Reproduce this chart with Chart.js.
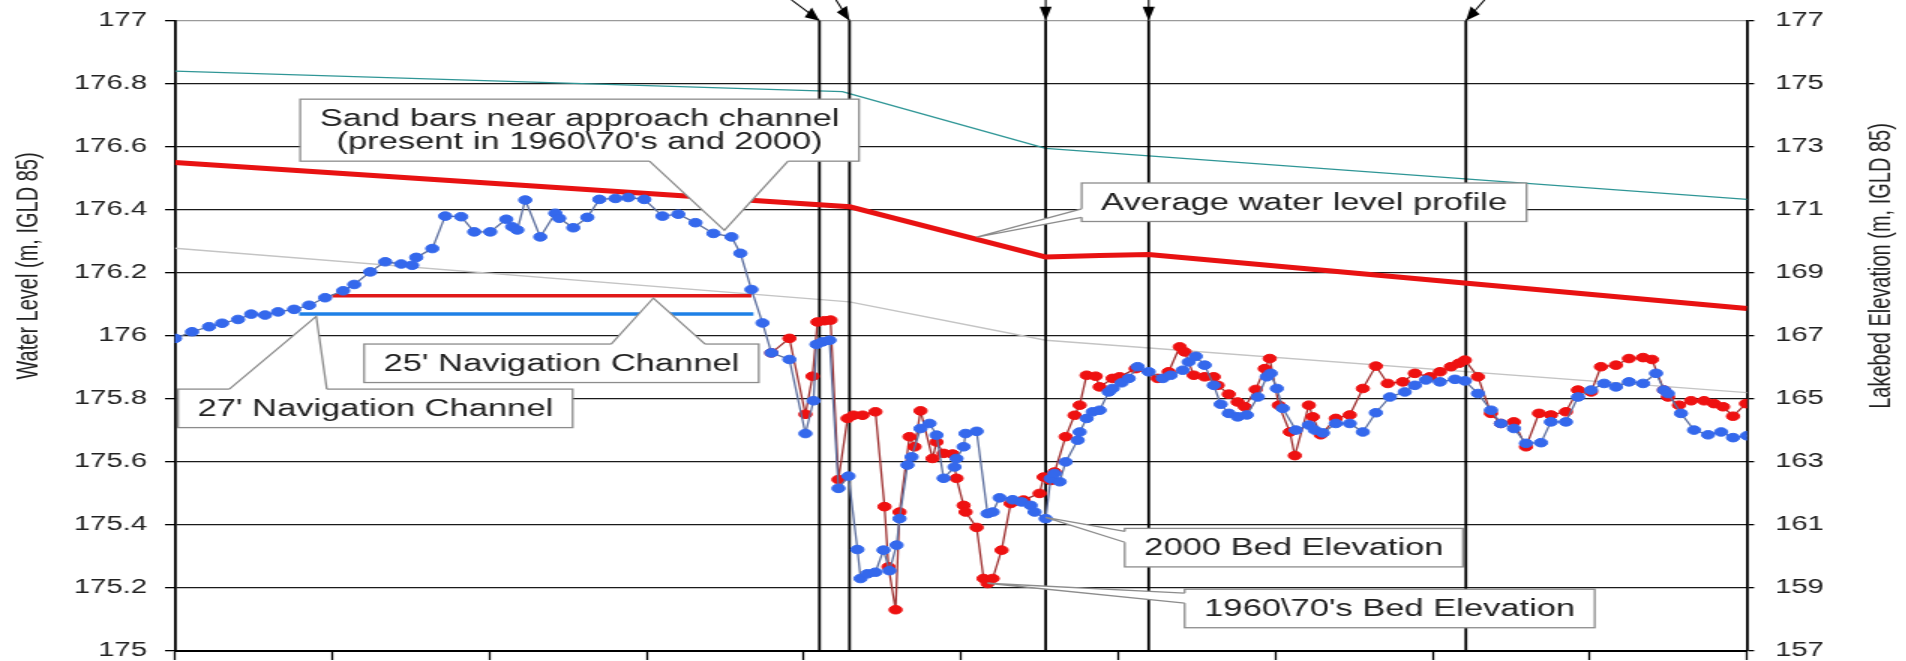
<!DOCTYPE html>
<html>
<head>
<meta charset="utf-8">
<script src="https://cdn.jsdelivr.net/npm/chart.js"></script>
<style>
  html, body { margin: 0; padding: 0; background: #fff; overflow: hidden; }
  /* o grafico original foi esticado na horizontal, por isso o scaleX */
  #estica { width: 1271px; height: 661px; transform: scaleX(1.5); transform-origin: 0 0; }
</style>
</head>
<body>
<div id="estica"><canvas id="graficoPerfil"></canvas></div>
<script>
const ESTICA_X = 1.5;

// Leito 2000 (azul) - distancia (m) e cota do leito (m, IGLD 85)
const distancia2000 = [0, 103, 206, 285, 382, 461, 545, 624, 721, 812,
  909, 1018, 1085, 1182, 1273, 1370, 1436, 1461, 1558, 1636,
  1733, 1812, 1909, 2006, 2042, 2073, 2121, 2212, 2303, 2327,
  2412, 2497, 2570, 2667, 2745, 2842, 2952, 3048, 3152, 3261,
  3370, 3424, 3491, 3558, 3612, 3721, 3818, 3867, 3885, 3921,
  3964, 4018, 4079, 4133, 4152, 4194, 4242, 4291, 4327, 4370,
  4388, 4436, 4461, 4515, 4570, 4612, 4655, 4721, 4733, 4776,
  4788, 4855, 4921, 4952, 4994, 5073, 5127, 5182, 5206, 5273,
  5303, 5327, 5358, 5394, 5467, 5479, 5521, 5558, 5600, 5655,
  5679, 5733, 5776, 5830, 5897, 5982, 6030, 6103, 6139, 6182,
  6236, 6291, 6333, 6382, 6436, 6491, 6558, 6612, 6636, 6673,
  6709, 6788, 6867, 6903, 6952, 7030, 7115, 7194, 7273, 7358,
  7448, 7509, 7576, 7661, 7752, 7812, 7891, 7970, 8030, 8109,
  8182, 8273, 8333, 8424, 8497, 8576, 8655, 8727, 8806, 8891,
  8970, 9018, 9042, 9121, 9200, 9285, 9364, 9436, 9521];
const leito2000 = [166.92, 167.13, 167.29, 167.40, 167.52, 167.69, 167.66, 167.76, 167.84, 167.97,
  168.21, 168.43, 168.63, 169.03, 169.35, 169.28, 169.24, 169.49, 169.77, 170.80,
  170.78, 170.30, 170.30, 170.70, 170.46, 170.36, 171.31, 170.14, 170.89, 170.73,
  170.43, 170.76, 171.33, 171.36, 171.39, 171.33, 170.80, 170.86, 170.59, 170.25,
  170.14, 169.62, 168.47, 167.41, 166.46, 166.25, 163.90, 164.94, 166.73, 166.81,
  166.86, 162.16, 162.55, 160.22, 159.30, 159.45, 159.50, 160.20, 159.55, 160.36,
  161.20, 162.90, 163.16, 164.06, 164.22, 163.85, 162.48, 162.84, 163.11, 163.48,
  163.90, 163.97, 161.36, 161.41, 161.86, 161.80, 161.73, 161.62, 161.41, 161.20,
  162.47, 162.63, 162.37, 163.00, 163.69, 163.95, 164.38, 164.59, 164.64, 165.22,
  165.33, 165.51, 165.65, 166.02, 165.86, 165.65, 165.75, 165.91, 166.17, 166.35,
  166.07, 165.43, 164.83, 164.54, 164.43, 164.49, 165.06, 165.70, 165.81, 165.33,
  164.70, 164.01, 164.17, 164.01, 163.92, 164.22, 164.22, 163.95, 164.56, 165.06,
  165.22, 165.43, 165.60, 165.54, 165.62, 165.57, 165.17, 164.64, 164.22, 164.06,
  163.59, 163.61, 164.27, 164.27, 165.06, 165.28, 165.49, 165.38, 165.54, 165.49,
  165.81, 165.28, 165.17, 164.54, 164.01, 163.86, 163.95, 163.77, 163.83];

// Leito 1960\70 (vermelho)
const distancia1960 = [3612, 3721, 3818, 3861, 3891, 3933, 3970, 4018, 4073, 4109,
  4164, 4242, 4297, 4321, 4364, 4388, 4448, 4479, 4515, 4588,
  4612, 4655, 4709, 4733, 4776, 4788, 4855, 4897, 4921, 4952,
  5006, 5061, 5139, 5236, 5261, 5303, 5327, 5394, 5448, 5479,
  5521, 5576, 5600, 5679, 5721, 5818, 5952, 6018, 6085, 6115,
  6170, 6236, 6291, 6315, 6382, 6436, 6479, 6545, 6600, 6630,
  6685, 6752, 6782, 6867, 6891, 6939, 7030, 7115, 7194, 7273,
  7345, 7436, 7509, 7600, 7661, 7727, 7776, 7812, 7891, 7970,
  8030, 8109, 8182, 8261, 8333, 8424, 8497, 8576, 8636, 8727,
  8806, 8891, 8945, 9018, 9042, 9109, 9182, 9261, 9321, 9376,
  9436, 9515];
const leito1960 = [166.46, 166.92, 164.51, 165.72, 167.44, 167.48, 167.50, 162.44, 164.38, 164.48,
  164.48, 164.59, 161.58, 159.67, 158.31, 161.41, 163.80, 163.48, 164.62, 163.11,
  163.63, 163.27, 163.25, 162.48, 161.62, 161.41, 160.92, 159.30, 159.14, 159.30,
  160.20, 161.68, 161.79, 162.00, 162.52, 162.41, 162.68, 163.80, 164.48, 164.80,
  165.75, 165.72, 165.38, 165.65, 165.70, 165.96, 165.65, 165.86, 166.65, 166.49,
  165.75, 165.70, 165.70, 165.43, 165.15, 164.90, 164.75, 165.30, 165.96, 166.28,
  164.80, 163.95, 163.20, 164.80, 164.43, 163.86, 164.38, 164.49, 165.33, 166.04,
  165.49, 165.54, 165.81, 165.70, 165.86, 166.02, 166.13, 166.23, 165.70, 164.54,
  164.22, 164.27, 163.48, 164.54, 164.49, 164.59, 165.28, 165.22, 166.02, 166.07,
  166.28, 166.31, 166.25, 165.28, 165.06, 164.80, 164.94, 164.94, 164.85, 164.75,
  164.45, 164.85];

// Perfis de nivel d'agua (eixo da esquerda)
const distPerfilMedio = [0, 4085, 5273, 5600, 5897, 9521];
const nivelPerfilMedio = [176.55, 176.41, 176.25, 176.255, 176.258, 176.087];
const distPerfilSuperior = [0, 4042, 5273, 9521];
const nivelPerfilSuperior = [176.84, 176.775, 176.595, 176.433];
const distPerfilInferior = [0, 4085, 5273, 9521];
const nivelPerfilInferior = [176.278, 176.108, 175.986, 175.82];

// Canais de navegacao (eixo da direita)
const distCanal25 = [952, 3491];
const cotaCanal25 = [168.27, 168.27];
const distCanal27 = [752, 3503];
const cotaCanal27 = [167.69, 167.69];

// Linhas verticais de referencia (distancia) e inclinacao das setas no topo
const linhasVerticais = [3903, 4085, 5273, 5897, 7818];
const inclinacaoSetas = [1.35, 0.65, 0, 0, -0.9];

// Eixos
const ticksEsquerda = { min: 175, max: 177, passo: 0.2 };
const ticksDireita = { min: 157, max: 177, passo: 2 };
const ticksDistancia = { min: 0, max: 9521, passo: 1000 };

// Caixas de texto (posicao em distancia / nivel do eixo esquerdo)
const chamadas = [
  { texto: ["Sand bars near approach channel", "(present in 1960\\70's and 2000)"],
    caixa: [758, 176.751], ponta: [3327, 176.335], lado: "bottom", base: [0.625, 0.873] },
  { texto: ["Average water level profile"],
    caixa: [5491, 176.485], ponta: [4855, 176.313], lado: "left", base: [0.67, 0.89] },
  { texto: ["25' Navigation Channel"],
    caixa: [1145, 175.974], ponta: [2897, 176.12], lado: "top", base: [0.626, 0.864] },
  { texto: ["27' Navigation Channel"],
    caixa: [18, 175.831], ponta: [855, 176.062], lado: "top", base: [0.13, 0.377] },
  { texto: ["2000 Bed Elevation"],
    caixa: [5752, 175.389], ponta: [5273, 175.424], lado: "left", base: [0.08, 0.36] },
  { texto: ["1960\\70's Bed Elevation"],
    caixa: [6115, 175.196], ponta: [4921, 175.215], lado: "left", base: [0.1, 0.36] },
];

const FONTE = 'Arial, "Liberation Sans", sans-serif';
Chart.defaults.font.family = FONTE;
Chart.defaults.color = "#222";

function pontos(xs, ys) {
  return xs.map((x, i) => ({ x: x, y: ys[i] }));
}

function desenharChamada(ctx, escX, escY, c) {
  ctx.save();
  ctx.font = "23px " + FONTE;
  const padX = 13, padY = 7.5, linha = 23.5;
  const larg = Math.max(...c.texto.map((t) => ctx.measureText(t).width)) + 2 * padX;
  const alt = c.texto.length * linha + 2 * padY;
  const x0 = escX.getPixelForValue(c.caixa[0]);
  const y0 = escY.getPixelForValue(c.caixa[1]);
  const px = escX.getPixelForValue(c.ponta[0]);
  const py = escY.getPixelForValue(c.ponta[1]);
  const [f1, f2] = c.base;
  let b1, b2;
  if (c.lado === "bottom") { b1 = [x0 + larg * f1, y0 + alt]; b2 = [x0 + larg * f2, y0 + alt]; }
  else if (c.lado === "top") { b1 = [x0 + larg * f1, y0]; b2 = [x0 + larg * f2, y0]; }
  else { b1 = [x0, y0 + alt * f1]; b2 = [x0, y0 + alt * f2]; }

  ctx.fillStyle = "#fff";
  ctx.fillRect(x0, y0, larg, alt);
  ctx.beginPath();
  ctx.moveTo(b1[0], b1[1]); ctx.lineTo(px, py); ctx.lineTo(b2[0], b2[1]);
  ctx.closePath();
  ctx.fill();

  ctx.strokeStyle = "#8c8c8c";
  ctx.lineWidth = 1.3;
  ctx.strokeRect(x0, y0, larg, alt);
  // apaga o pedaco da borda onde nasce o bico
  ctx.strokeStyle = "#fff";
  ctx.lineWidth = 2.6;
  ctx.beginPath(); ctx.moveTo(b1[0], b1[1]); ctx.lineTo(b2[0], b2[1]); ctx.stroke();
  ctx.strokeStyle = "#8c8c8c";
  ctx.lineWidth = 1.3;
  ctx.beginPath();
  ctx.moveTo(b1[0], b1[1]); ctx.lineTo(px, py); ctx.lineTo(b2[0], b2[1]);
  ctx.stroke();

  ctx.fillStyle = "#222";
  ctx.textAlign = "center";
  ctx.textBaseline = "middle";
  c.texto.forEach((t, i) => ctx.fillText(t, x0 + larg / 2, y0 + padY + linha * (i + 0.5) + 1));
  ctx.restore();
}

const extras = {
  id: "extras",
  afterDatasetsDraw(chart) {
    const { ctx, scales } = chart;
    chamadas.forEach((c) => desenharChamada(ctx, scales.x, scales.y, c));
  },
  afterDraw(chart) {
    const { ctx, scales, chartArea } = chart;
    ctx.save();
    // setas no topo das linhas verticais
    ctx.fillStyle = "#000";
    ctx.strokeStyle = "#000";
    ctx.lineWidth = 1.1;
    linhasVerticais.forEach((d, i) => {
      const px = scales.x.getPixelForValue(d);
      const topo = chartArea.top;
      const inc = inclinacaoSetas[i];
      const n = Math.hypot(inc, 1);
      const ux = inc / n, uy = 1 / n;
      const cauda = topo / uy;
      ctx.beginPath();
      ctx.moveTo(px - (ux * cauda) / ESTICA_X, topo - uy * cauda);
      ctx.lineTo(px, topo);
      ctx.stroke();
      const L = 14, meia = 6;
      const bx = -ux * L, by = -uy * L, nx = -uy, ny = ux;
      ctx.beginPath();
      ctx.moveTo(px, topo);
      ctx.lineTo(px + (bx + nx * meia) / ESTICA_X, topo + by + ny * meia);
      ctx.lineTo(px + (bx - nx * meia) / ESTICA_X, topo + by - ny * meia);
      ctx.closePath();
      ctx.fill();
    });

    // titulos dos eixos (os dois lidos de baixo para cima)
    ctx.font = "20px " + FONTE;
    ctx.fillStyle = "#222";
    ctx.textAlign = "center";
    ctx.textBaseline = "middle";
    [["Water Level (m, IGLD 85)", chartArea.left - 97.5],
     ["Lakebed Elevation (m, IGLD 85)", chartArea.right + 89.5]].forEach(([t, x]) => {
      ctx.save();
      ctx.translate(x, 266);
      ctx.rotate(-Math.PI / 2);
      ctx.fillText(t, 0, 0);
      ctx.restore();
    });
    ctx.restore();
  },
};

const datasets = [
  { data: pontos(distancia2000, leito2000), yAxisID: "y2", order: 1,
    borderColor: "#5d6f9e", borderWidth: 1.3, pointRadius: 4.3, pointBackgroundColor: "#3468ec",
    pointBorderColor: "#3468ec", pointBorderWidth: 1 },
  { data: pontos(distancia1960, leito1960), yAxisID: "y2", order: 2,
    borderColor: "#9e3030", borderWidth: 1.3, pointRadius: 4.3, pointBackgroundColor: "#ee1111",
    pointBorderColor: "#ee1111", pointBorderWidth: 1 },
  { data: pontos(distCanal25, cotaCanal25), yAxisID: "y2", order: 3,
    borderColor: "#e01818", borderWidth: 3.5, pointRadius: 0 },
  { data: pontos(distCanal27, cotaCanal27), yAxisID: "y2", order: 3,
    borderColor: "#1e80e6", borderWidth: 3.5, pointRadius: 0 },
  { data: pontos(distPerfilMedio, nivelPerfilMedio), yAxisID: "y", order: 4,
    borderColor: "#e81212", borderWidth: 5, pointRadius: 0 },
  ...linhasVerticais.map((d) => ({
    data: [{ x: d, y: ticksEsquerda.min }, { x: d, y: ticksEsquerda.max }], yAxisID: "y", order: 5,
    borderColor: "#000", borderWidth: 1.8, pointRadius: 0 })),
  { data: pontos(distPerfilSuperior, nivelPerfilSuperior), yAxisID: "y", order: 6,
    borderColor: "#2f9696", borderWidth: 1.4, pointRadius: 0 },
  { data: pontos(distPerfilInferior, nivelPerfilInferior), yAxisID: "y", order: 7,
    borderColor: "#c4c4c4", borderWidth: 1.4, pointRadius: 0 },
];

new Chart(document.getElementById("graficoPerfil"), {
  type: "line",
  data: { datasets: datasets },
  plugins: [extras],
  options: {
    responsive: true,
    maintainAspectRatio: false,
    animation: false,
    layout: { padding: { top: 20.7, left: 0, right: 0, bottom: 0 } },
    plugins: { legend: { display: false }, tooltip: { enabled: false } },
    elements: { line: { tension: 0 } },
    scales: {
      x: {
        type: "linear",
        min: ticksDistancia.min,
        max: ticksDistancia.max,
        ticks: { display: false, stepSize: ticksDistancia.passo },
        grid: { drawOnChartArea: false, drawTicks: true, tickLength: 9, tickColor: "#000", tickWidth: 1.3 },
        border: { display: true, color: "#000", width: 2 },
        afterFit: (s) => { s.height = 10; s.paddingLeft = 0; s.paddingRight = 0; },
      },
      y: {
        position: "left",
        min: ticksEsquerda.min,
        max: ticksEsquerda.max,
        ticks: {
          stepSize: ticksEsquerda.passo,
          padding: 12,
          font: { size: 19.5 },
          color: "#222",
          callback: (v) => String(Number(v.toFixed(1))),
        },
        grid: {
          color: (c) => (c.tick && c.tick.value >= 176.99 ? "#9a9a9a" : "#1a1a1a"),
          lineWidth: 1.3,
          tickLength: 6.7,
          tickColor: "#000",
        },
        border: { display: true, color: "#000", width: 1.8 },
        afterFit: (s) => { s.width = 116.7; s.paddingTop = 0; s.paddingBottom = 0; },
      },
      y2: {
        position: "right",
        min: ticksDireita.min,
        max: ticksDireita.max,
        ticks: { stepSize: ticksDireita.passo, padding: 14, font: { size: 19.5 }, color: "#222" },
        grid: { drawOnChartArea: false, tickLength: 4.7, tickColor: "#000", lineWidth: 1.3 },
        border: { display: true, color: "#000", width: 1.8 },
        afterFit: (s) => { s.width = 1271 - 1164.7; s.paddingTop = 0; s.paddingBottom = 0; },
      },
    },
  },
});
</script>
</body>
</html>
